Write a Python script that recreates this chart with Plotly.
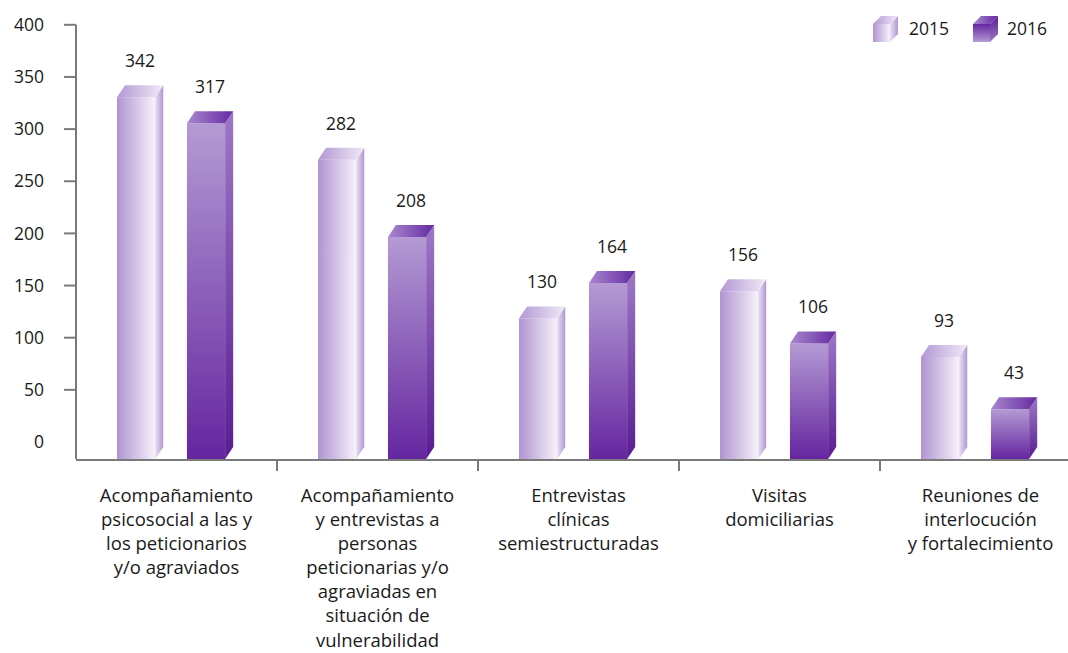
import plotly.graph_objects as go

# data
categories = [
    "Acompañamiento<br>psicosocial a las y<br>los peticionarios<br>y/o agraviados",
    "Acompañamiento<br>y entrevistas a<br>personas<br>peticionarias y/o<br>agraviadas en<br>situación de<br>vulnerabilidad",
    "Entrevistas<br>clínicas<br>semiestructuradas",
    "Visitas<br>domiciliarias",
    "Reuniones de<br>interlocución<br>y fortalecimiento",
]
values_2015 = [342, 282, 130, 156, 93]
values_2016 = [317, 208, 164, 106, 43]
y_ticks = [0, 50, 100, 150, 200, 250, 300, 350, 400]

FONT = "Open Sans, Noto Sans, sans-serif"
GREY = "#7a7a7a"
TXT = "#1a1a1a"

# 3D look (in axis units)
bar_w = 0.19      # front face width (category units)
dx = 0.04         # depth, horizontal
dy = 11.5         # depth, vertical
floor = -16.3     # bottom of front face
offs = {"2015": -0.296, "2016": 0.052}

styles = {
    "2015": {
        "front": ("horizontal", "#b094d1", "#f6f2fa"),
        "side": ("horizontal", "#e9e1f2", "#b196d3"),
        "top": ("horizontal", "#b397d4", "#f0eaf6"),
    },
    "2016": {
        "front": ("vertical", "#6526a0", "#b49ad4"),
        "side": ("vertical", "#5a1c92", "#9d78c6"),
        "top": ("horizontal", "#a887cf", "#6529a1"),
    },
}

fig = go.Figure()


def face(xs, ys, kind, c0, c1, xa="x", ya="y"):
    fig.add_trace(go.Scatter(
        x=xs, y=ys, mode="lines", fill="toself", xaxis=xa, yaxis=ya,
        line=dict(width=0, color="rgba(0,0,0,0)"),
        fillgradient=dict(type=kind, colorscale=[[0, c0], [1, c1]]),
        hoverinfo="skip", showlegend=False))


annotations = []
for name, vals in (("2015", values_2015), ("2016", values_2016)):
    st = styles[name]
    for i, v in enumerate(vals):
        x0 = i + offs[name]
        x1 = x0 + bar_w
        top = v - dy
        face([x0, x1, x1, x0, x0], [floor, floor, top, top, floor], *st["front"])
        face([x1, x1 + dx, x1 + dx, x1, x1], [floor, floor + dy, v, top, floor], *st["side"])
        face([x0, x1, x1 + dx, x0 + dx, x0], [top, top, v, v, top], *st["top"])
        annotations.append(dict(x=x0 + (bar_w + dx) / 2, y=v + 24, text=str(v),
                                showarrow=False, xref="x", yref="y",
                                font=dict(size=17.5, color=TXT, family=FONT)))

# legend cubes drawn on an overlay in pixel-like units
legend_items = [("2015", 873, 907), ("2016", 973, 1005)]
for name, lx, tx in legend_items:
    st = styles[name]
    fx0, fx1, fy0, fy1, d = lx, lx + 17, 42, 24, 8
    for kind, xs, ys in (
        ("front", [fx0, fx1, fx1, fx0, fx0], [fy0, fy0, fy1, fy1, fy0]),
        ("side", [fx1, fx1 + d, fx1 + d, fx1, fx1], [fy0, fy0 - d, fy1 - d, fy1, fy0]),
        ("top", [fx0, fx1, fx1 + d, fx0 + d, fx0], [fy1, fy1, fy1 - d, fy1 - d, fy1]),
    ):
        g, c0, c1 = st[kind]
        if g == "vertical":
            c0, c1 = c1, c0  # y2 axis is reversed
        face(xs, ys, g, c0, c1, "x2", "y2")
    annotations.append(dict(x=tx, y=28, text=name, showarrow=False, xref="x2", yref="y2",
                            xanchor="left", yanchor="middle",
                            font=dict(size=17.5, color=TXT, family=FONT)))

# left axis line and ticks
shapes = [dict(type="line", xref="paper", yref="y", x0=0, x1=0, y0=floor, y1=400,
               line=dict(color=GREY, width=2))]
for t in y_ticks[1:]:
    shapes.append(dict(type="line", xref="paper", yref="y", x0=-12 / 992, x1=0, y0=t, y1=t,
                       line=dict(color=GREY, width=2)))

fig.update_layout(
    width=1068, height=653,
    margin=dict(l=76, r=0, t=10, b=194),
    paper_bgcolor="white", plot_bgcolor="white",
    font=dict(family=FONT, color=TXT, size=17.5),
    showlegend=False,
    annotations=annotations,
    shapes=shapes,
    xaxis=dict(range=[-0.5, -0.5 + 992 / 201], tickvals=list(range(5)), ticktext=categories,
               ticks="", showline=True, linecolor=GREY, linewidth=2, showgrid=False,
               zeroline=False, ticklabelstandoff=19, tickfont=dict(size=18.5),
               minor=dict(tickvals=[0.5, 1.5, 2.5, 3.5], ticks="outside", ticklen=10,
                          tickcolor=GREY, tickwidth=2)),
    yaxis=dict(range=[floor, (442 - 10) / 1.043], tickvals=y_ticks, ticks="",
               showline=False, showgrid=False, zeroline=False, ticklabelstandoff=31),
    xaxis2=dict(overlaying="x", range=[76, 1068], visible=False),
    yaxis2=dict(overlaying="y", range=[459, 10], visible=False),
)

fig.write_html("out.html", config={"displayModeBar": False},
               post_script="document.body.style.margin='0';")
